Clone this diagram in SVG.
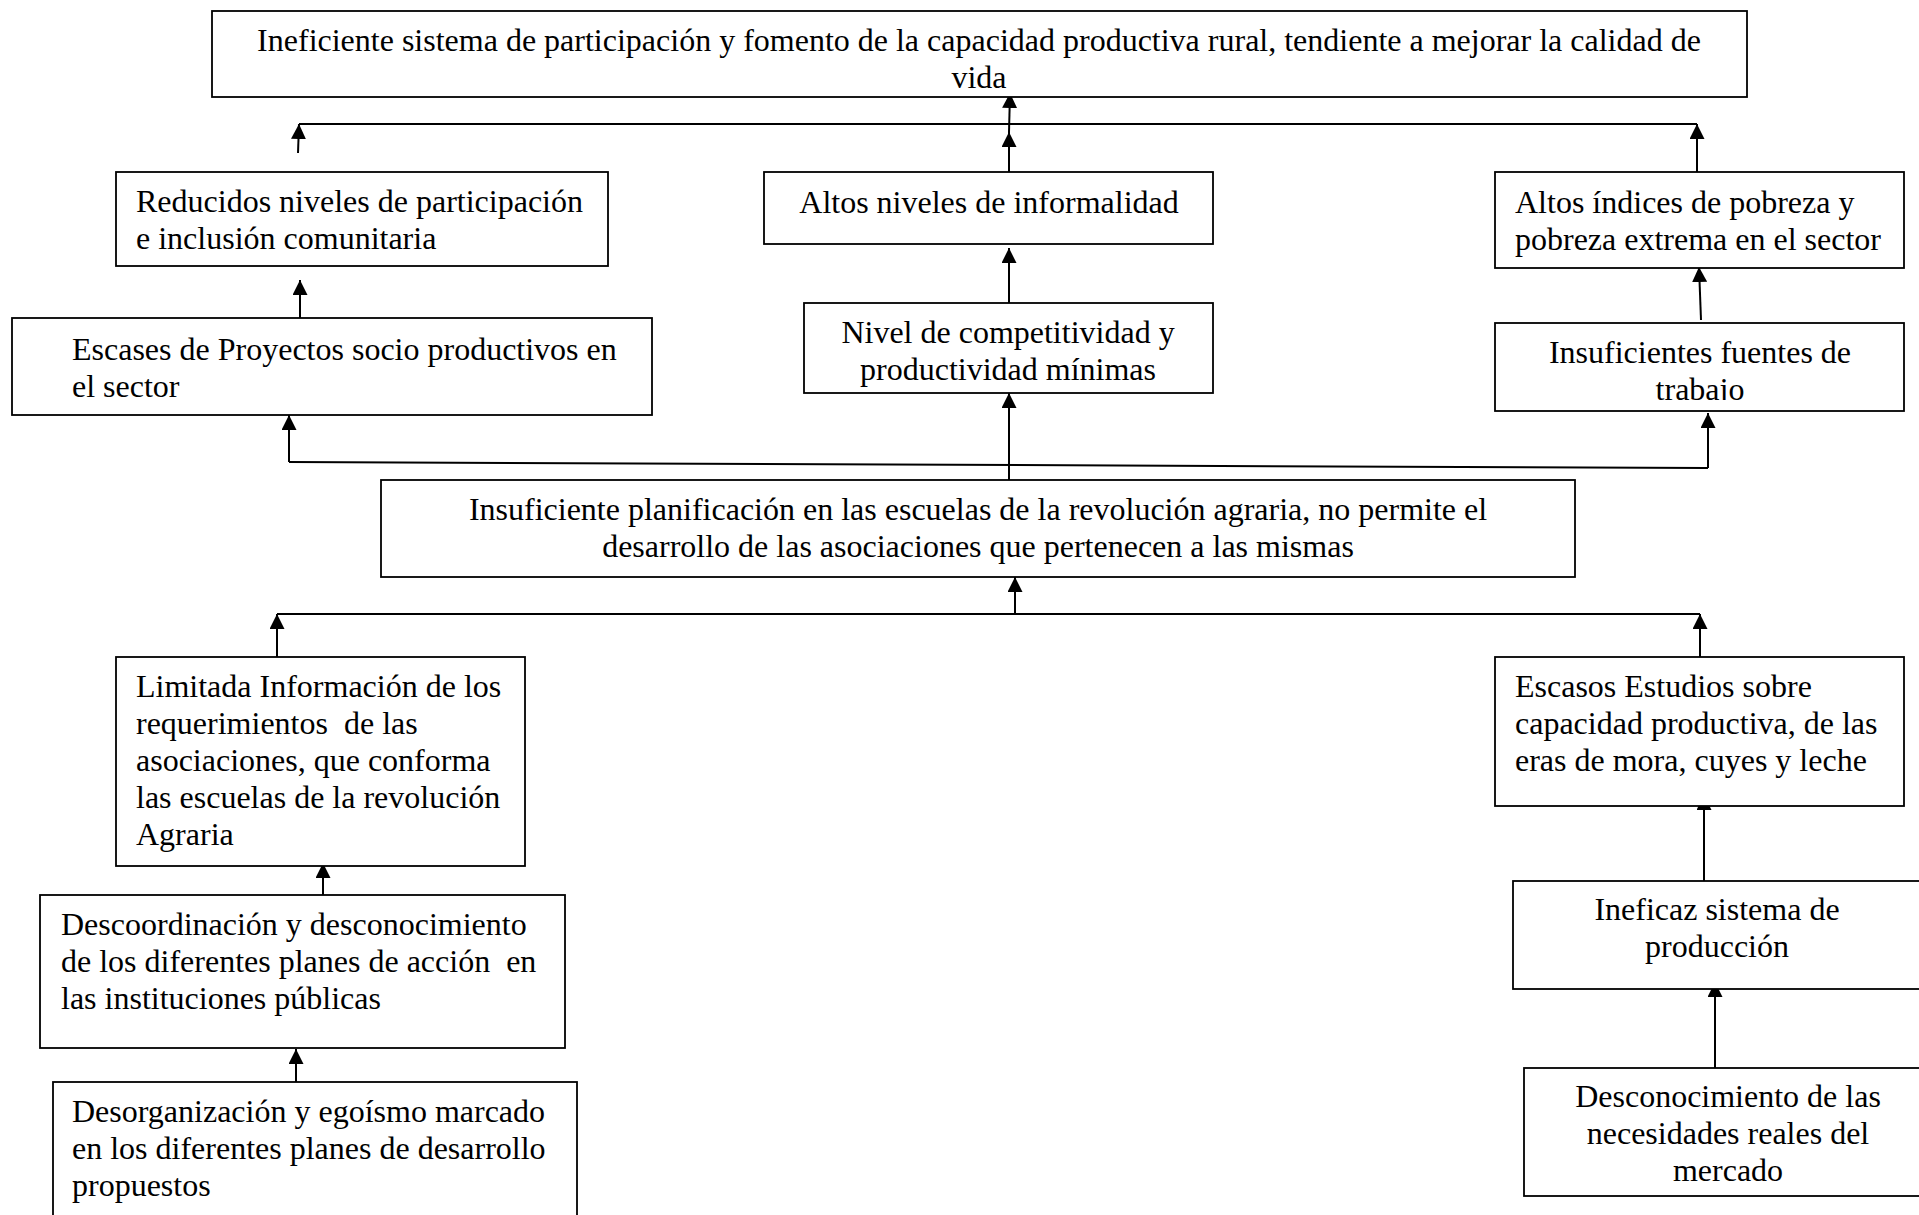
<svg xmlns="http://www.w3.org/2000/svg" width="1919" height="1215" viewBox="0 0 1919 1215">
<style>
  .box { fill: #fff; stroke: #000; stroke-width: 1.8; }
  .t { font-family: "Liberation Serif", "Times New Roman", serif; font-size: 32px; fill: #000; white-space: pre; }
  .c { text-anchor: middle; }
  .ln { fill: none; stroke: #000; stroke-width: 2; }
  .ar { fill: none; stroke: #000; stroke-width: 2; marker-end: url(#ah); }
</style>
<defs>
  <marker id="ah" viewBox="0 0 15 15" refX="15" refY="7.5" markerWidth="15" markerHeight="15" markerUnits="userSpaceOnUse" orient="auto">
    <path d="M0,0 L15,7.5 L0,15 z" fill="#000"/>
  </marker>
  <clipPath id="clipTrab"><rect x="1495" y="323" width="409" height="77"/></clipPath>
</defs>
<rect width="1919" height="1215" fill="#fff"/>

<g id="connectors">
  <line class="ln" x1="299" y1="124" x2="1697" y2="124"/>
  <line class="ar" x1="298" y1="153" x2="299" y2="124"/>
  <line class="ar" x1="1009" y1="172" x2="1009" y2="132"/>
  <line class="ar" x1="1009" y1="132" x2="1010" y2="93"/>
  <line class="ar" x1="1697" y1="172" x2="1697" y2="124"/>
  <line class="ar" x1="300" y1="318" x2="300" y2="280"/>
  <line class="ar" x1="1009" y1="303" x2="1009" y2="248"/>
  <line class="ar" x1="1701" y1="320" x2="1699" y2="267"/>
  <line class="ln" x1="289" y1="462" x2="1708" y2="468"/>
  <line class="ar" x1="289" y1="462" x2="289" y2="415"/>
  <line class="ar" x1="1708" y1="468" x2="1708" y2="413"/>
  <line class="ar" x1="1009" y1="480" x2="1009" y2="393"/>
  <line class="ln" x1="277" y1="614" x2="1700" y2="614"/>
  <line class="ar" x1="277" y1="657" x2="277" y2="614"/>
  <line class="ar" x1="1700" y1="657" x2="1700" y2="614"/>
  <line class="ar" x1="1015" y1="614" x2="1015" y2="577"/>
  <line class="ar" x1="1704" y1="881" x2="1704" y2="795"/>
  <line class="ar" x1="1715" y1="1068" x2="1715" y2="982"/>
  <line class="ar" x1="323" y1="895" x2="323" y2="863"/>
  <line class="ar" x1="296" y1="1082" x2="296" y2="1049"/>
</g>

<g id="n-top">
  <rect class="box" x="212" y="11" width="1535" height="86"/>
  <text class="t c" x="979" y="51">Ineficiente sistema de participación y fomento de la capacidad productiva rural, tendiente a mejorar la calidad de</text>
  <text class="t c" x="979" y="88">vida</text>
</g>

<g id="n-reducidos">
  <rect class="box" x="116" y="172" width="492" height="94"/>
  <text class="t" x="136" y="212">Reducidos niveles de participación</text>
  <text class="t" x="136" y="249">e inclusión comunitaria</text>
</g>

<g id="n-informalidad">
  <rect class="box" x="764" y="172" width="449" height="72"/>
  <text class="t c" x="989" y="213">Altos niveles de informalidad</text>
</g>

<g id="n-pobreza">
  <rect class="box" x="1495" y="172" width="409" height="96"/>
  <text class="t" x="1515" y="213">Altos índices de pobreza y</text>
  <text class="t" x="1515" y="250">pobreza extrema en el sector</text>
</g>

<g id="n-escases">
  <rect class="box" x="12" y="318" width="640" height="97"/>
  <text class="t" x="72" y="360">Escases de Proyectos socio productivos en</text>
  <text class="t" x="72" y="397">el sector</text>
</g>

<g id="n-competitividad">
  <rect class="box" x="804" y="303" width="409" height="90"/>
  <text class="t c" x="1008" y="343">Nivel de competitividad y</text>
  <text class="t c" x="1008" y="380">productividad mínimas</text>
</g>

<g id="n-fuentes">
  <rect class="box" x="1495" y="323" width="409" height="88"/>
  <g clip-path="url(#clipTrab)">
    <text class="t c" x="1700" y="363">Insuficientes fuentes de</text>
    <text class="t c" x="1700" y="400">trabajo</text>
  </g>
</g>

<g id="n-planificacion">
  <rect class="box" x="381" y="480" width="1194" height="97"/>
  <text class="t c" x="978" y="520">Insuficiente planificación en las escuelas de la revolución agraria, no permite el</text>
  <text class="t c" x="978" y="557">desarrollo de las asociaciones que pertenecen a las mismas</text>
</g>

<g id="n-limitada">
  <rect class="box" x="116" y="657" width="409" height="209"/>
  <text class="t" x="136" y="697">Limitada Información de los</text>
  <text class="t" x="136" y="734">requerimientos  de las</text>
  <text class="t" x="136" y="771">asociaciones, que conforma</text>
  <text class="t" x="136" y="808">las escuelas de la revolución</text>
  <text class="t" x="136" y="845">Agraria</text>
</g>

<g id="n-estudios">
  <rect class="box" x="1495" y="657" width="409" height="149"/>
  <text class="t" x="1515" y="697">Escasos Estudios sobre</text>
  <text class="t" x="1515" y="734">capacidad productiva, de las</text>
  <text class="t" x="1515" y="771">eras de mora, cuyes y leche</text>
</g>

<g id="n-descoordinacion">
  <rect class="box" x="40" y="895" width="525" height="153"/>
  <text class="t" x="61" y="935">Descoordinación y desconocimiento</text>
  <text class="t" x="61" y="972">de los diferentes planes de acción  en</text>
  <text class="t" x="61" y="1009">las instituciones públicas</text>
</g>

<g id="n-ineficaz">
  <rect class="box" x="1513" y="881" width="420" height="108"/>
  <text class="t c" x="1717" y="920">Ineficaz sistema de</text>
  <text class="t c" x="1717" y="957">producción</text>
</g>

<g id="n-desorganizacion">
  <rect class="box" x="53" y="1082" width="524" height="150"/>
  <text class="t" x="72" y="1122">Desorganización y egoísmo marcado</text>
  <text class="t" x="72" y="1159">en los diferentes planes de desarrollo</text>
  <text class="t" x="72" y="1196">propuestos</text>
</g>

<g id="n-desconocimiento">
  <rect class="box" x="1524" y="1068" width="410" height="128"/>
  <text class="t c" x="1728" y="1107">Desconocimiento de las</text>
  <text class="t c" x="1728" y="1144">necesidades reales del</text>
  <text class="t c" x="1728" y="1181">mercado</text>
</g>
</svg>
